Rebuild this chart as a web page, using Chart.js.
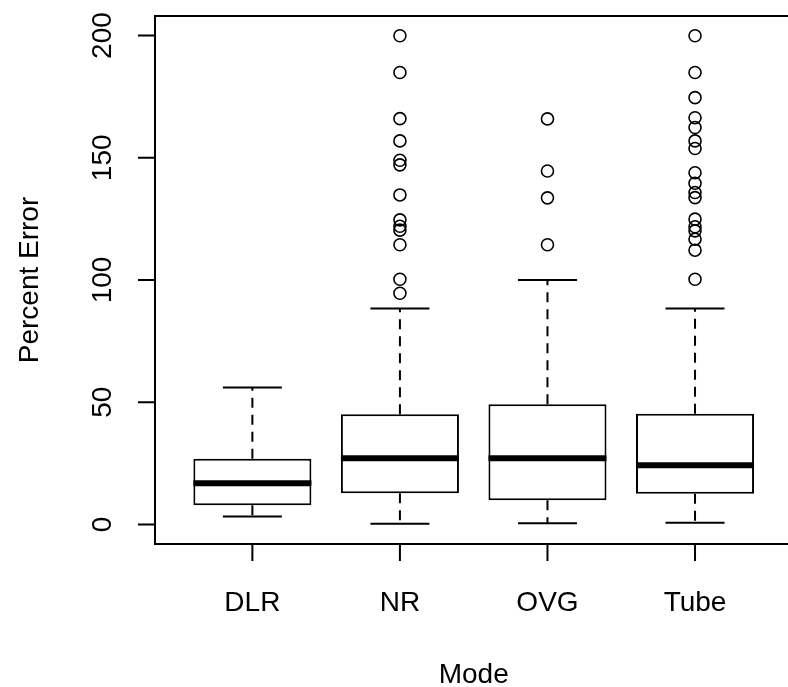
<!DOCTYPE html>
<html lang="en">
<head>
  <meta charset="UTF-8" />
  <title>Percent Error by Mode</title>
  <script src="https://cdn.jsdelivr.net/npm/chart.js"></script>
  <style>
    html, body {
      margin: 0;
      padding: 0;
      background: #fff;
      overflow: hidden;
    }
    .wrap {
      position: relative;
      width: 800px;
      height: 687px;
    }
  </style>
</head>
<body>
<div class="wrap">
  <canvas id="boxChart"></canvas>
</div>

<script>
  // Values
  const categories = ['DLR', 'NR', 'OVG', 'Tube'];
  const whiskerLow = [3.2, 0.3, 0.5, 0.7];
  const lowerQuartile = [7.9, 12.8, 9.9, 12.6];
  const medians = [16.9, 27.1, 27.1, 24.2];
  const upperQuartile = [26.9, 45.1, 49.2, 45.3];
  const whiskerHigh = [56.0, 88.3, 100.0, 88.3];

  const dlrOutliers = [];
  const nrOutliers = [199.9, 184.9, 166.0, 156.9, 149.0, 147.1, 134.8, 124.6, 122.0, 120.4, 114.4, 100.3, 94.6];
  const ovgOutliers = [165.9, 144.6, 133.6, 114.4];
  const tubeOutliers = [199.9, 184.9, 174.6, 166.4, 162.4, 156.9, 153.8, 143.9, 139.6, 135.8, 133.7,
                        124.9, 121.8, 120.1, 116.7, 112.2, 100.3];
  const outliers = [dlrOutliers, nrOutliers, ovgOutliers, tubeOutliers];

  const yTicks = [0, 50, 100, 150, 200];
  const yTitle = 'Percent Error';
  const xTitle = 'Mode';

  const FONT = '28px "Liberation Sans", Arial, sans-serif';

  const boxData = categories.map((c, i) => ({ x: i + 1, y: [lowerQuartile[i], upperQuartile[i]] }));
  const outlierData = [];
  outliers.forEach((list, i) => list.forEach(v => outlierData.push({ x: i + 1, y: v })));

  // whiskers, medians, frame, axes and labels in R boxplot style
  const boxplotPlugin = {
    id: 'boxplotExtras',
    beforeDatasetsDraw(chart) {
      const { ctx, scales: { x, y } } = chart;
      const half = (x.getPixelForValue(1.4) - x.getPixelForValue(1)) / 2; // staple = half box width
      ctx.save();
      ctx.strokeStyle = '#000';
      ctx.lineWidth = 2;
      categories.forEach((c, i) => {
        const px = x.getPixelForValue(i + 1);
        // dashed whiskers
        ctx.setLineDash([10, 7]);
        ctx.beginPath();
        ctx.moveTo(px, y.getPixelForValue(upperQuartile[i]));
        ctx.lineTo(px, y.getPixelForValue(whiskerHigh[i]));
        ctx.moveTo(px, y.getPixelForValue(lowerQuartile[i]));
        ctx.lineTo(px, y.getPixelForValue(whiskerLow[i]));
        ctx.stroke();
        // staples
        ctx.setLineDash([]);
        ctx.beginPath();
        ctx.moveTo(px - half, y.getPixelForValue(whiskerHigh[i]));
        ctx.lineTo(px + half, y.getPixelForValue(whiskerHigh[i]));
        ctx.moveTo(px - half, y.getPixelForValue(whiskerLow[i]));
        ctx.lineTo(px + half, y.getPixelForValue(whiskerLow[i]));
        ctx.stroke();
      });
      ctx.restore();
    },
    afterDatasetsDraw(chart) {
      const { ctx, scales: { y } } = chart;
      const meta = chart.getDatasetMeta(0);
      ctx.save();
      ctx.strokeStyle = '#000';
      ctx.lineWidth = 6;
      ctx.lineCap = 'butt';
      meta.data.forEach((bar, i) => {
        const props = bar.getProps(['x', 'width'], true);
        const py = y.getPixelForValue(medians[i]);
        ctx.beginPath();
        ctx.moveTo(props.x - props.width / 2, py);
        ctx.lineTo(props.x + props.width / 2, py);
        ctx.stroke();
      });
      ctx.restore();
    },
    afterDraw(chart) {
      const { ctx, chartArea: a, scales: { x, y } } = chart;
      ctx.save();
      ctx.strokeStyle = '#000';
      ctx.fillStyle = '#000';
      ctx.lineWidth = 2;
      ctx.strokeRect(a.left, a.top, a.right - a.left, a.bottom - a.top);

      const tickLen = 17;
      ctx.font = FONT;

      // y axis ticks + rotated labels
      ctx.beginPath();
      yTicks.forEach(t => {
        const py = y.getPixelForValue(t);
        ctx.moveTo(a.left - tickLen, py);
        ctx.lineTo(a.left, py);
      });
      ctx.stroke();
      yTicks.forEach(t => {
        const py = y.getPixelForValue(t);
        ctx.save();
        ctx.translate(a.left - 44, py);
        ctx.rotate(-Math.PI / 2);
        ctx.textAlign = 'center';
        ctx.textBaseline = 'alphabetic';
        ctx.fillText(String(t), 0, 0);
        ctx.restore();
      });

      // x axis ticks + labels
      ctx.beginPath();
      categories.forEach((c, i) => {
        const px = x.getPixelForValue(i + 1);
        ctx.moveTo(px, a.bottom);
        ctx.lineTo(px, a.bottom + tickLen);
      });
      ctx.stroke();
      ctx.textAlign = 'center';
      ctx.textBaseline = 'alphabetic';
      categories.forEach((c, i) => {
        ctx.fillText(c, x.getPixelForValue(i + 1), a.bottom + 67);
      });

      // axis titles
      ctx.fillText(xTitle, (a.left + a.right) / 2, a.bottom + 139);
      ctx.save();
      ctx.translate(38, (a.top + a.bottom) / 2);
      ctx.rotate(-Math.PI / 2);
      ctx.fillText(yTitle, 0, 0);
      ctx.restore();
      ctx.restore();
    }
  };

  const ctx = document.getElementById('boxChart').getContext('2d');

  new Chart(ctx, {
    type: 'bar',
    data: {
      datasets: [
        {
          type: 'bar',
          data: boxData,
          backgroundColor: '#fff',
          borderColor: '#000',
          borderWidth: 2,
          borderSkipped: false,
          categoryPercentage: 1,
          barPercentage: 0.8,
          order: 2
        },
        {
          type: 'scatter',
          data: outlierData,
          pointStyle: 'circle',
          pointRadius: 6,
          pointBackgroundColor: 'rgba(255,255,255,0)',
          pointBorderColor: '#000',
          pointBorderWidth: 1.6,
          order: 1
        }
      ]
    },
    options: {
      responsive: true,
      maintainAspectRatio: false,
      animation: false,
      layout: {
        padding: { left: 155, top: 16, right: 2, bottom: 143 }
      },
      scales: {
        x: {
          type: 'linear', min: 0.34, max: 4.66, display: false, offset: false,
          // one tick per group so the bar ruler uses the group spacing
          afterBuildTicks: s => { s.ticks = categories.map((c, i) => ({ value: i + 1 })); }
        },
        y: { type: 'linear', min: -8, max: 208, display: false }
      },
      plugins: {
        legend: { display: false },
        tooltip: { enabled: false }
      },
      events: []
    },
    plugins: [boxplotPlugin]
  });
</script>
</body>
</html>
